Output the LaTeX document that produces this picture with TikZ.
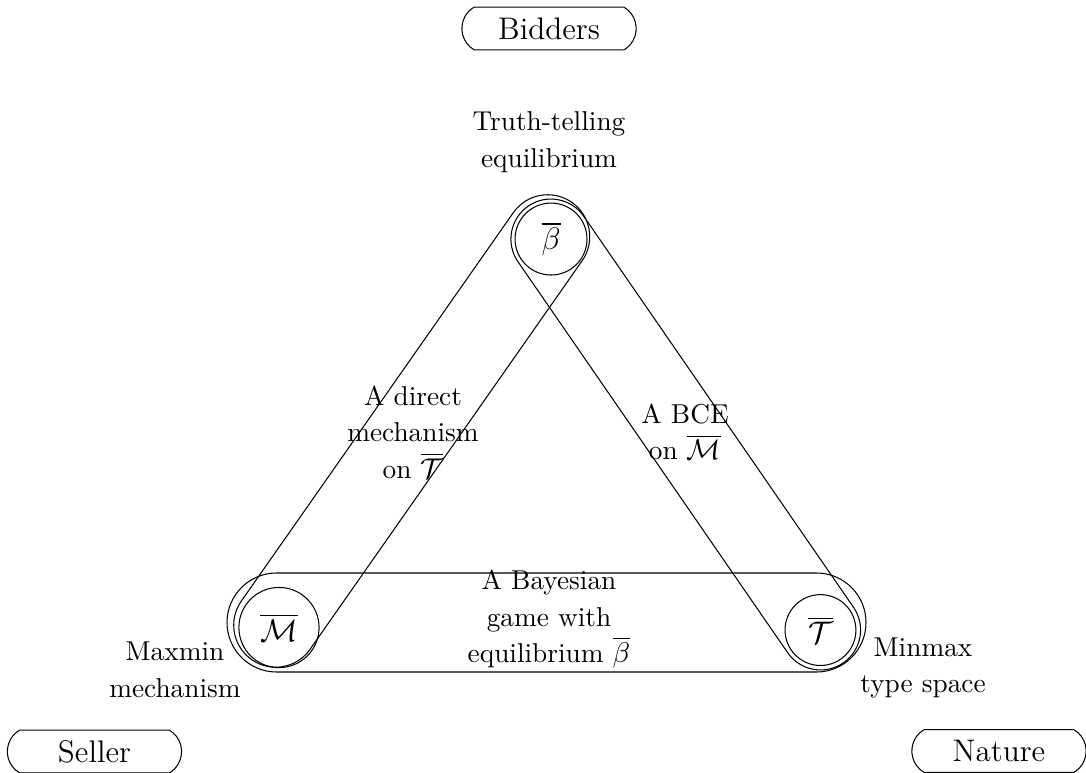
\documentclass[tikz,border=0pt]{standalone}
\usepackage{amsmath}
\usepackage{amssymb}
\usetikzlibrary{shapes.misc}

\begin{document}
\begin{tikzpicture}
            [every node/.style={align=center,font=\fontsize{10.5}{14}\selectfont},
            state/.style={circle,draw,inner sep=4.6pt,font=\large},
            hull/.style={rounded rectangle,draw,inner sep=0pt},
            player/.style={rounded rectangle,rounded rectangle arc length=120,draw,font=\large,minimum width=2.59cm,minimum height=0.58cm}]
            \useasboundingbox (-3.771,-1.953) rectangle (10.908,8.482);
            \node[state] (m) at (0,0) {$\overline{\mathcal{M}}$};
            \node[state] (t) at (7.319,-0.034) {$\overline{\mathcal{T}}$};
            \node[state] (b) at (3.677,5.251) {$\overline{\beta}$};
            \node[hull,minimum width=7.545cm,minimum height=1.135cm,rotate=55] (mb) at (1.794,2.657) {};
            \node[hull,minimum width=7.501cm,minimum height=1.081cm,rotate=-55.4] (bt) at (5.498,2.609) {};
            \node[hull,minimum width=8.637cm,minimum height=1.338cm] (mt) at (3.616,0.068) {};
            \node (lb) at (3.650,6.563) {Truth-telling\\equilibrium};
            \node (lm) at (-1.406,-0.574) {Maxmin\\mechanism};
            \node (lt) at (8.705,-0.547) {Minmax\\type space};
            \node (dm) at (1.811,2.643) {A direct\\mechanism\\on $\overline{\mathcal{T}}$};
            \node (bce) at (5.488,2.643) {A BCE\\on $\overline{\mathcal{M}}$};
            \node (bg) at (3.650,0.115) {A Bayesian\\game with\\equilibrium $\overline{\beta}$};
            \node[player] (bidders) at (3.650,8.097) {Bidders};
            \node[player] (seller) at (-2.494,-1.676) {Seller};
            \node[player] (nature) at (9.732,-1.669) {Nature};
        \end{tikzpicture}
\end{document}
